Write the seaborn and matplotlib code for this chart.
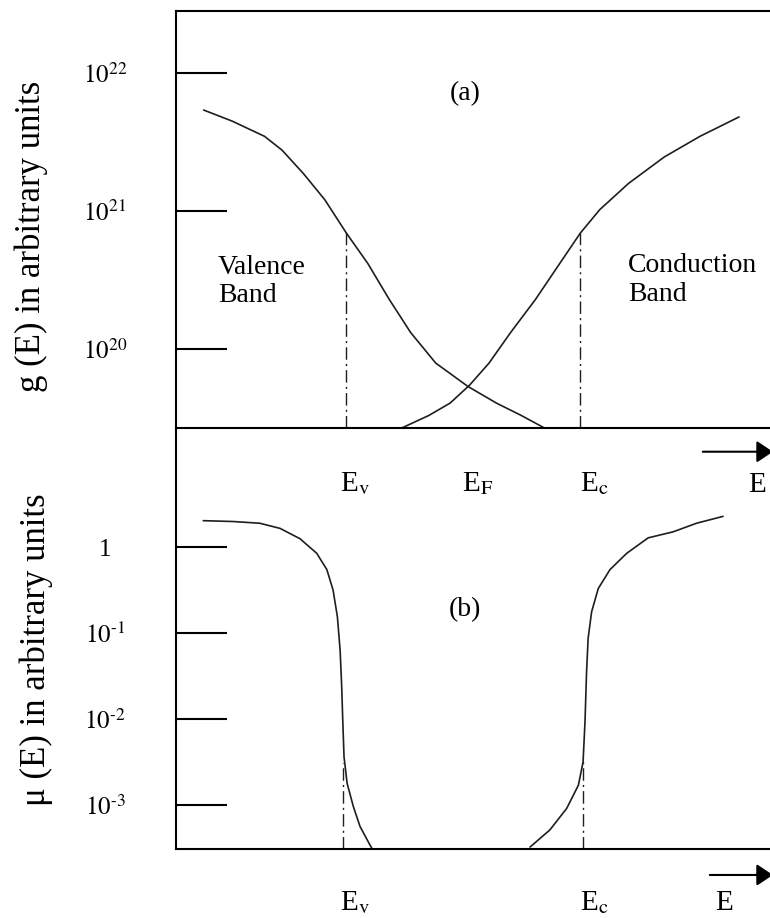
import numpy as np
import matplotlib
matplotlib.use("Agg")
import matplotlib.pyplot as plt
from matplotlib.ticker import NullLocator
import seaborn as sns

# ---------------------------------------------------------------------------
# Data (energy in arbitrary units, densities/mobilities as log10 values)
# ---------------------------------------------------------------------------
# (a) density of states g(E)
E_g_valence = [0.35, 1.08, 1.91, 2.36, 2.91, 3.46, 4.01, 4.56, 5.11, 5.66, 6.30, 7.13, 7.86, 8.50, 9.09]
logg_valence = [21.73, 21.65, 21.54, 21.44, 21.27, 21.08, 20.84, 20.62, 20.36, 20.12, 19.90, 19.73, 19.61, 19.52, 19.43]
E_g_conduction = [5.43, 6.12, 6.67, 7.17, 7.67, 8.22, 8.86, 9.41, 10.01, 10.51, 11.25, 12.16, 13.08, 14.08]
logg_conduction = [19.43, 19.52, 19.61, 19.74, 19.90, 20.12, 20.36, 20.59, 20.84, 21.01, 21.20, 21.39, 21.54, 21.68]

# (b) mobility mu(E)
E_mu_valence = [0.34, 1.11, 1.79, 2.31, 2.82, 3.25, 3.51, 3.67, 3.78, 3.85, 3.89, 3.92, 3.95,
                4.03, 4.19, 4.36, 4.62, 4.66]
logmu_valence = [0.31, 0.30, 0.28, 0.22, 0.10, -0.07, -0.26, -0.50, -0.81, -1.20, -1.62, -2.05, -2.44,
                 -2.75, -3.02, -3.25, -3.47, -3.50]
E_mu_conduction = [8.72, 9.23, 9.66, 9.96, 10.08, 10.13, 10.17, 10.21, 10.30, 10.47, 10.77, 11.20,
                   11.75, 12.39, 12.99, 13.67]
logmu_conduction = [-3.49, -3.29, -3.04, -2.77, -2.50, -2.03, -1.45, -1.06, -0.75, -0.48, -0.26, -0.07,
                    0.11, 0.18, 0.28, 0.36]

# band edges (mobility edges) and the curve values where the markers stop
edges_g = [4.00, 10.00]
edges_g_top = [20.85, 20.84]
edges_mu = [3.93, 10.08]
edges_mu_top = [-2.51, -2.50]

# axis ticks
g_ticks = [20, 21, 22]
g_tick_labels = ["$10^{20}$", "$10^{21}$", "$10^{22}$"]
mu_ticks = [0, -1, -2, -3]
mu_tick_labels = ["1", r"$10^{\text{-}1}$", r"$10^{\text{-}2}$", r"$10^{\text{-}3}$"]

# ---------------------------------------------------------------------------
sns.set_theme(style="white")
plt.rcParams["font.family"] = ["Liberation Serif", "DejaVu Serif"]
plt.rcParams["mathtext.fontset"] = "stix"
plt.rcParams["axes.edgecolor"] = "black"
plt.rcParams["text.color"] = "black"
plt.rcParams["ytick.color"] = "black"

W, H = 770, 918
fig = plt.figure(figsize=(W / 100, H / 100), dpi=100)

left_px, right_px = 175.5, 798.3
ax_g = fig.add_axes([left_px / W, 1 - 428.0 / H, (right_px - left_px) / W, (428.0 - 10.5) / H])
ax_mu = fig.add_axes([left_px / W, 1 - 849.3 / H, (right_px - left_px) / W, (849.3 - 428.5) / H])

XLIM = (-0.372, 15.60)
G_LIM = (10 ** 19.43, 10 ** 22.45)
MU_LIM = (10 ** -3.516, 10 ** 1.383)

line_kw = dict(color="#1e1e1e", lw=1.2, estimator=None, sort=False, legend=False)
dash_kw = dict(colors="#1e1e1e", linewidth=1.0, linestyles=[(0, (9, 3, 1.5, 3))])

# ---- (a) density of states ------------------------------------------------
ax_g.set_yscale("log")
sns.lineplot(x=E_g_valence, y=10 ** np.array(logg_valence), ax=ax_g, **line_kw)
sns.lineplot(x=E_g_conduction, y=10 ** np.array(logg_conduction), ax=ax_g, **line_kw)
ax_g.vlines(edges_g, G_LIM[0], 10 ** np.array(edges_g_top), **dash_kw)
ax_g.set_xlim(*XLIM)
ax_g.set_ylim(*G_LIM)

# ---- (b) mobility ---------------------------------------------------------
ax_mu.set_yscale("log")
sns.lineplot(x=E_mu_valence, y=10 ** np.array(logmu_valence), ax=ax_mu, **line_kw)
sns.lineplot(x=E_mu_conduction, y=10 ** np.array(logmu_conduction), ax=ax_mu, **line_kw)
ax_mu.vlines(edges_mu, MU_LIM[0], 10 ** np.array(edges_mu_top), **dash_kw)
ax_mu.set_xlim(*XLIM)
ax_mu.set_ylim(*MU_LIM)

for ax, ticks, labels in ((ax_g, g_ticks, g_tick_labels), (ax_mu, mu_ticks, mu_tick_labels)):
    ax.set_xticks([])
    ax.set_xlabel("")
    ax.set_ylabel("")
    ax.yaxis.set_minor_locator(NullLocator())
    ax.set_yticks([10.0 ** t for t in ticks])
    ax.set_yticklabels(labels, ha="center", fontsize=18)
    ax.tick_params(axis="y", which="major", direction="in", length=36.5, width=1.5,
                   pad=50.8, left=True, right=False)
    for s in ax.spines.values():
        s.set_linewidth(1.5)
        s.set_color("black")
    ax.spines["right"].set_visible(False)
    ax.patch.set_alpha(0)

ax_mu.spines["top"].set_visible(False)

# ---- annotations ----------------------------------------------------------
txt_kw = dict(fontsize=20, color="black")

ax_g.text(7.05, 10 ** 21.85, "(a)", ha="center", va="center", **txt_kw)
ax_mu.text(7.05, 10 ** -0.73, "(b)", ha="center", va="center", **txt_kw)
ax_g.text(0.72, 10 ** 20.49, "Valence\nBand", ha="left", va="center",
          linespacing=1.2, **txt_kw)
ax_g.text(11.23, 10 ** 20.50, "Conduction\nBand", ha="left", va="center",
          linespacing=1.2, **txt_kw)

lab_kw = dict(fontsize=21, color="black", ha="left", va="baseline", clip_on=False)
tg = ax_g.get_xaxis_transform()
tm = ax_mu.get_xaxis_transform()
ax_g.text(3.85, -0.1521, r"E$_{\rm v}$", transform=tg, **lab_kw)
ax_g.text(6.97, -0.1521, r"E$_{\rm F}$", transform=tg, **lab_kw)
ax_g.text(10.00, -0.1521, r"E$_{\rm c}$", transform=tg, **lab_kw)
ax_g.text(14.31, -0.1521, "E", transform=tg, **lab_kw)
ax_mu.text(3.85, -0.1454, r"E$_{\rm v}$", transform=tm, **lab_kw)
ax_mu.text(10.00, -0.1454, r"E$_{\rm c}$", transform=tm, **lab_kw)
ax_mu.text(13.46, -0.1454, "E", transform=tm, **lab_kw)

arrow_kw = dict(arrowstyle="-|>,head_length=0.45,head_width=0.3", color="black",
                lw=1.5, mutation_scale=22, shrinkA=0, shrinkB=0)
ax_g.annotate("", xy=(14.95, -0.0568), xytext=(13.15, -0.0568), xycoords=tg,
              textcoords=tg, arrowprops=arrow_kw, annotation_clip=False)
ax_mu.annotate("", xy=(14.95, -0.061), xytext=(13.33, -0.061), xycoords=tm,
               textcoords=tm, arrowprops=arrow_kw, annotation_clip=False)

fig.text(31 / W, 1 - 236 / H, "g (E) in arbitrary units", rotation=90,
         ha="center", va="center", fontsize=25)
fig.text(36 / W, 1 - 650 / H, "\u03bc (E) in arbitrary units", rotation=90,
         ha="center", va="center", fontsize=25)

fig.savefig("out.png", dpi=100)
